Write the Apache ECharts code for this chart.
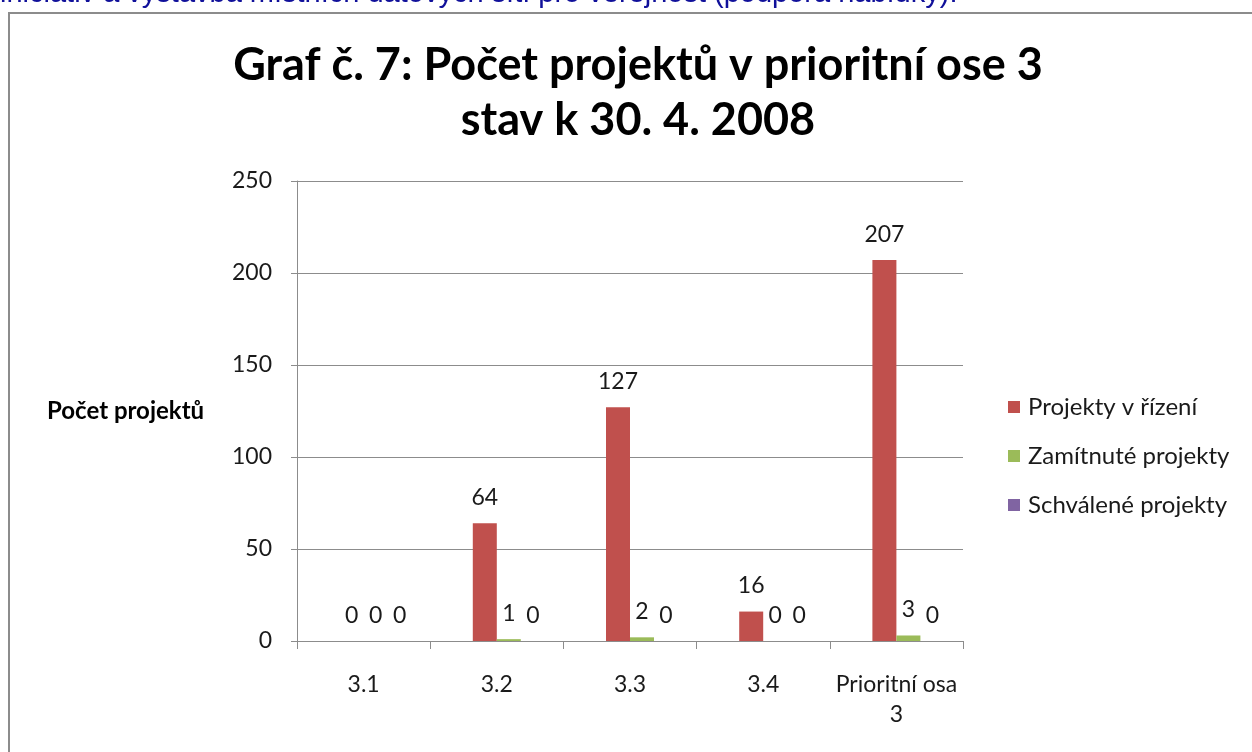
<!DOCTYPE html>
<html>
<head>
<meta charset="utf-8">
<script src="https://cdn.jsdelivr.net/npm/echarts@6/dist/echarts.min.js"></script>
<style>
	html, body { margin: 0; padding: 0; background: #fff; }
	#chart { width: 1252px; height: 752px; }
</style>
</head>
<body>
<div id="chart"></div>
<script>
const categories = ['3.1', '3.2', '3.3', '3.4', 'Prioritní osa\n3'];
const vRizeni = [0, 64, 127, 16, 207];
const zamitnute = [0, 1, 2, 0, 3];
const schvalene = [0, 0, 0, 0, 0];
const yTicks = { min: 0, max: 250, interval: 50 };

const font = 'Lato, "Open Sans", sans-serif';

function barLabel() {
	return {
		show: true,
		position: 'top',
		distance: 14,
		color: '#1a1a1a',
		fontSize: 23,
		fontFamily: font
	};
}

(function() {
	let myChart = echarts.init(document.getElementById('chart'));

	let option = {
		animation: false,
		title: {
			text: 'Graf č. 7: Počet projektů v prioritní ose 3\nstav k 30. 4. 2008',
			left: 633,
			top: 33,
			textAlign: 'center',
			textStyle: {
				fontFamily: font,
				fontSize: 45,
				fontWeight: 'bold',
				color: '#000',
				lineHeight: 55
			}
		},
		graphic: [{
			type: 'rect',
			shape: { x: 9, y: 13, width: 1260, height: 760 },
			style: { fill: 'none', stroke: '#8c8c8c', lineWidth: 2 }
		}, {
			type: 'text',
			left: 0,
			top: -21,
			style: {
				text: 'iniciativ a výstavba místních datových sítí pro veřejnost (podpora nabídky).',
				fill: '#10109a',
				font: '29px "Liberation Sans", Arial, sans-serif'
			}
		}, {
			type: 'text',
			left: 47,
			top: 399,
			style: {
				text: 'Počet projektů',
				fill: '#000',
				font: 'bold 24px ' + font
			}
		}],
		legend: {
			orient: 'vertical',
			left: 1008,
			top: 395,
			padding: 0,
			itemWidth: 12,
			itemHeight: 12,
			itemGap: 25,
			icon: 'rect',
			data: ['Projekty v řízení', 'Zamítnuté projekty', 'Schválené projekty'],
			textStyle: {
				fontFamily: font,
				fontSize: 24,
				color: '#1a1a1a',
				padding: [0, 0, 0, 3]
			}
		},
		grid: {
			left: 297,
			right: 289,
			top: 181,
			bottom: 111
		},
		xAxis: {
			type: 'category',
			data: categories,
			axisLine: { lineStyle: { color: '#8c8c8c', width: 1 } },
			axisTick: { show: true, length: 8, lineStyle: { color: '#8c8c8c' } },
			axisLabel: {
				interval: 0,
				margin: 29,
				color: '#1a1a1a',
				fontSize: 23,
				fontFamily: font,
				lineHeight: 30
			}
		},
		yAxis: {
			type: 'value',
			min: yTicks.min,
			max: yTicks.max,
			interval: yTicks.interval,
			axisLine: { show: true, lineStyle: { color: '#8c8c8c' } },
			axisTick: { show: true, length: 6, lineStyle: { color: '#8c8c8c' } },
			splitLine: { lineStyle: { color: '#8c8c8c', width: 1 } },
			axisLabel: {
				margin: 25,
				color: '#1a1a1a',
				fontSize: 23,
				fontFamily: font
			}
		},
		series: [{
			// empty slot, the original chart leaves space before the first bar
			name: '',
			type: 'bar',
			barWidth: 24,
			barGap: '0%',
			data: categories.map(() => null)
		}, {
			name: 'Projekty v řízení',
			type: 'bar',
			barWidth: 24,
			barGap: '0%',
			itemStyle: { color: '#C0504D' },
			label: barLabel(),
			data: vRizeni
		}, {
			name: 'Zamítnuté projekty',
			type: 'bar',
			barWidth: 24,
			barGap: '0%',
			itemStyle: { color: '#9BBB59' },
			label: barLabel(),
			data: zamitnute
		}, {
			name: 'Schválené projekty',
			type: 'bar',
			barWidth: 24,
			barGap: '0%',
			itemStyle: { color: '#8064A2' },
			label: barLabel(),
			data: schvalene
		}]
	};

	myChart.setOption(option);
	window.addEventListener('resize', function() {
		myChart.resize();
	})
})();
</script>
</body>
</html>
